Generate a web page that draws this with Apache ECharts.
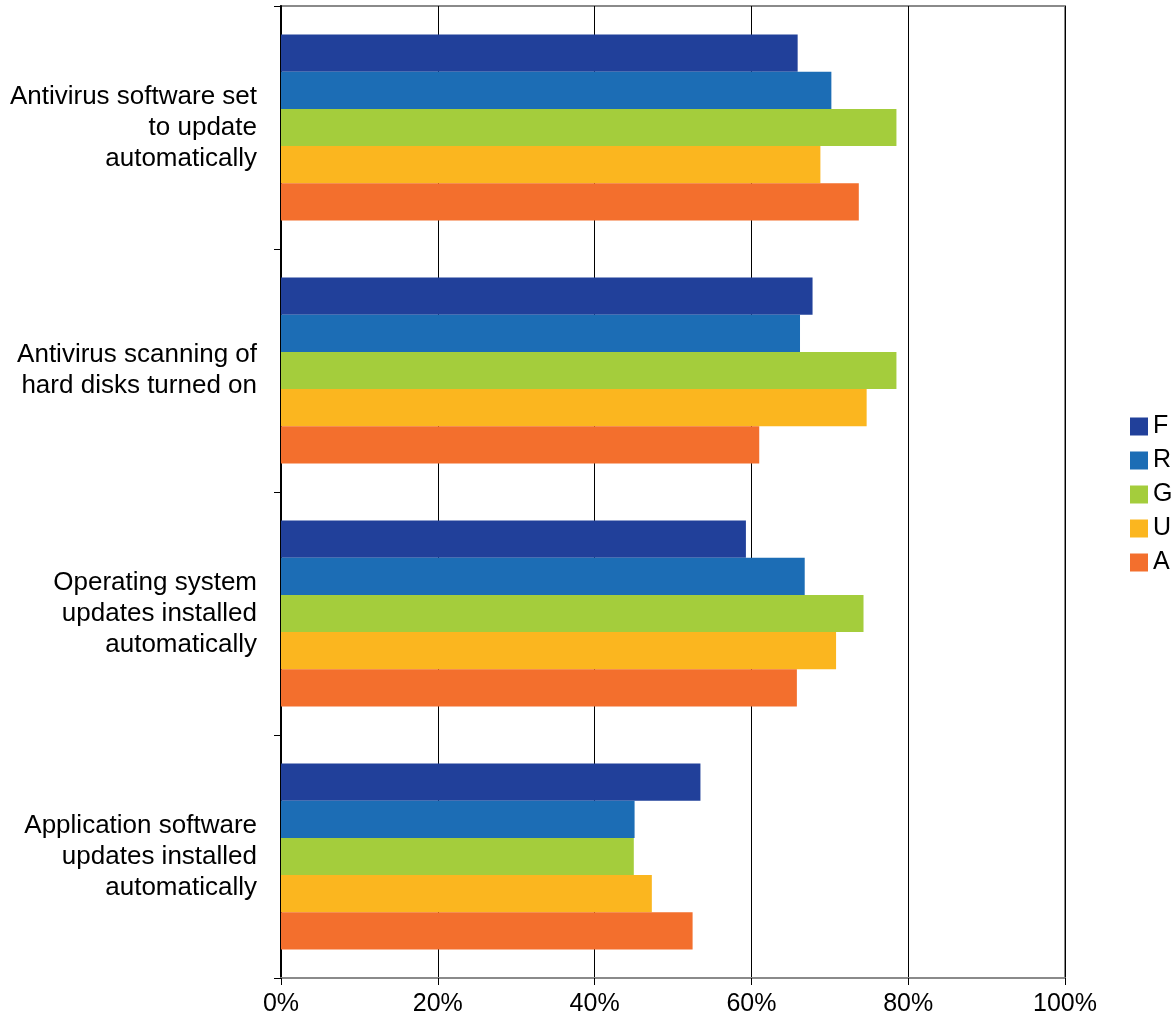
<!DOCTYPE html>
<html>
<head>
<meta charset="utf-8">
<script src="https://cdn.jsdelivr.net/npm/echarts@6/dist/echarts.min.js"></script>
<style>
html,body{margin:0;padding:0;background:#fff;}
#chart{width:1174px;height:1027px;}
</style>
</head>
<body>
<div id="chart"></div>
<script>
const categories = [
  "Antivirus software set\nto update\nautomatically",
  "Antivirus scanning of\nhard disks turned on",
  "Operating system\nupdates installed\nautomatically",
  "Application software\nupdates installed\nautomatically"
];
const seriesNames = ["F", "R", "G", "U", "A"];
const F = [65.9, 67.8, 59.3, 53.5];
const R = [70.2, 66.2, 66.8, 45.1];
const G = [78.5, 78.5, 74.3, 45.0];
const U = [68.8, 74.7, 70.8, 47.3];
const A = [73.7, 61.0, 65.8, 52.5];
const colors = ["#21409a", "#1c6db5", "#a4cd3c", "#fbb61f", "#f36f2d"];
const xTicks = [0, 20, 40, 60, 80, 100];

const values = [F, R, G, U, A];
const chart = echarts.init(document.getElementById('chart'));
const series = seriesNames.map((n, i) => ({
  name: n,
  type: 'bar',
  data: values[i],
  itemStyle: { color: colors[i] },
  barGap: '0%',
  barCategoryGap: '23.5%',
  emphasis: { disabled: true }
}));
chart.setOption({
  animation: false,
  textStyle: { fontFamily: 'Liberation Sans, Arial, sans-serif' },
  grid: {
    left: 281, right: 109, top: 6, bottom: 49,
    show: true, borderColor: '#8a8a8a', borderWidth: 2, backgroundColor: 'transparent'
  },
  legend: {
    orient: 'vertical',
    left: 1125,
    top: 409,
    itemWidth: 18,
    itemHeight: 18,
    itemGap: 9,
    icon: 'rect',
    data: seriesNames,
    textStyle: { fontSize: 25, color: '#000' }
  },
  xAxis: {
    type: 'value',
    min: xTicks[0],
    max: xTicks[xTicks.length - 1],
    interval: 20,
    axisLine: { show: true, lineStyle: { color: '#8a8a8a', width: 2 } },
    axisTick: { show: true, length: 7, lineStyle: { color: '#000' } },
    axisLabel: { formatter: '{value}%', fontSize: 25, color: '#000', margin: 14 },
    splitLine: { show: true, lineStyle: { color: '#000', width: 1 } }
  },
  yAxis: {
    type: 'category',
    data: categories,
    inverse: true,
    axisLine: { show: true, lineStyle: { color: '#000', width: 2 } },
    axisTick: { show: true, length: 7, lineStyle: { color: '#000' } },
    axisLabel: { fontSize: 26, color: '#000', lineHeight: 31, margin: 24, align: 'right' }
  },
  series: series
});
</script>
</body>
</html>
